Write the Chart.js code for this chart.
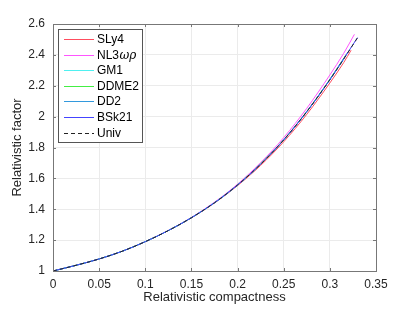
<!DOCTYPE html>
<html lang="en">
  <head>
    <meta charset="UTF-8" />
    <title>Relativistic factor vs compactness</title>
    <script src="https://cdn.jsdelivr.net/npm/chart.js@4.4.0/dist/chart.umd.min.js"></script>
    <style>
      html, body { margin: 0; padding: 0; background: #fff; }
      #wrap { width: 415px; height: 312px; }
    </style>
  </head>
  <body>
    <div id="wrap"><canvas id="myChart" width="415" height="312"></canvas></div>

    <script>
      // values
      const compactness = [0, 0.025, 0.05, 0.075, 0.1, 0.125, 0.15, 0.175, 0.2, 0.225, 0.25, 0.275, 0.3, 0.315, 0.33];

      const sly4C = [0, 0.025, 0.05, 0.075, 0.1, 0.125, 0.15, 0.175, 0.2, 0.225, 0.25, 0.275, 0.3, 0.315, 0.323];
      const sly4 = [1, 1.037, 1.078, 1.128, 1.19, 1.262, 1.344, 1.44, 1.553, 1.684, 1.837, 2.015, 2.218, 2.35, 2.43];

      const nl3C = [0, 0.025, 0.05, 0.075, 0.1, 0.125, 0.15, 0.175, 0.2, 0.225, 0.25, 0.275, 0.3, 0.315, 0.3266];
      const nl3 = [1, 1.037, 1.078, 1.128, 1.19, 1.263, 1.347, 1.446, 1.563, 1.702, 1.864, 2.054, 2.27, 2.41, 2.533];

      const gm1C = [0, 0.025, 0.05, 0.075, 0.1, 0.125, 0.15, 0.175, 0.2, 0.225, 0.25, 0.275, 0.3, 0.315];
      const gm1 = [1, 1.037, 1.078, 1.128, 1.19, 1.262, 1.345, 1.442, 1.557, 1.692, 1.849, 2.032, 2.239, 2.37];

      const ddme2C = [0, 0.025, 0.05, 0.075, 0.1, 0.125, 0.15, 0.175, 0.2, 0.225, 0.25, 0.275, 0.3, 0.318];
      const ddme2 = [1, 1.037, 1.078, 1.128, 1.19, 1.262, 1.345, 1.442, 1.558, 1.694, 1.851, 2.034, 2.242, 2.405];

      const dd2C = [0, 0.025, 0.05, 0.075, 0.1, 0.125, 0.15, 0.175, 0.2, 0.225, 0.25, 0.275, 0.3, 0.32];
      const dd2 = [1, 1.037, 1.078, 1.128, 1.19, 1.262, 1.345, 1.442, 1.557, 1.692, 1.849, 2.032, 2.239, 2.42];

      const bsk21C = [0, 0.025, 0.05, 0.075, 0.1, 0.125, 0.15, 0.175, 0.2, 0.225, 0.25, 0.275, 0.3, 0.315, 0.33];
      const bsk21 = [1, 1.037, 1.078, 1.128, 1.19, 1.262, 1.345, 1.442, 1.557, 1.692, 1.849, 2.032, 2.239, 2.375, 2.512];

      const univ = [1, 1.037, 1.078, 1.128, 1.19, 1.262, 1.345, 1.442, 1.557, 1.692, 1.849, 2.032, 2.239, 2.373, 2.511];

      const xTicks = [0, 0.05, 0.1, 0.15, 0.2, 0.25, 0.3, 0.35];
      const yTicks = [1, 1.2, 1.4, 1.6, 1.8, 2, 2.2, 2.4, 2.6];

      const FONT = "'Liberation Sans', Arial, sans-serif";

      function pts(xs, ys) {
        return xs.map((x, i) => ({ x: x, y: ys[i] }));
      }

      function series(label, xs, ys, color, dash, order) {
        return {
          label: label,
          data: pts(xs, ys),
          borderColor: color,
          borderWidth: 1,
          borderDash: dash,
          pointRadius: 0,
          fill: false,
          cubicInterpolationMode: "monotone",
          order: order,
        };
      }

      // box, inward ticks and legend like the matlab figure
      const boxPlugin = {
        id: "box",
        afterDatasetsDraw(chart) {
          const { ctx, chartArea: a, scales } = chart;
          ctx.save();
          ctx.strokeStyle = "#777";
          ctx.lineWidth = 1;
          ctx.beginPath();
          ctx.moveTo(a.left, a.top + 0.5);
          ctx.lineTo(a.right + 0.5, a.top + 0.5);
          ctx.lineTo(a.right + 0.5, a.bottom);
          ctx.stroke();
          ctx.beginPath();
          xTicks.forEach((v) => {
            const px = Math.round(scales.x.getPixelForValue(v)) + 0.5;
            ctx.moveTo(px, a.bottom);
            ctx.lineTo(px, a.bottom - 3);
            ctx.moveTo(px, a.top);
            ctx.lineTo(px, a.top + 3);
          });
          yTicks.forEach((v) => {
            const py = Math.round(scales.y.getPixelForValue(v)) + 0.5;
            ctx.moveTo(a.left, py);
            ctx.lineTo(a.left + 3, py);
            ctx.moveTo(a.right, py);
            ctx.lineTo(a.right - 3, py);
          });
          ctx.stroke();

          // legend
          const lx = 58.5, ly = 29.5, lw = 84, lh = 113;
          ctx.fillStyle = "#fff";
          ctx.fillRect(lx, ly, lw, lh);
          ctx.strokeStyle = "#555";
          ctx.strokeRect(lx, ly, lw, lh);
          ctx.font = "12px " + FONT;
          ctx.textBaseline = "middle";
          chart.data.datasets.forEach((ds, i) => {
            const y = Math.round(39 + i * 15.6) + 0.5;
            ctx.strokeStyle = ds.borderColor;
            ctx.setLineDash(ds.borderDash.length ? ds.borderDash : []);
            ctx.beginPath();
            ctx.moveTo(64, y);
            ctx.lineTo(94, y);
            ctx.stroke();
            ctx.setLineDash([]);
            ctx.fillStyle = "#000";
            if (ds.label === "NL3ωρ") {
              ctx.fillText("NL3", 97, y);
              const w = ctx.measureText("NL3").width;
              ctx.font = "italic 12px 'DejaVu Serif', serif";
              ctx.fillText("ωρ", 97 + w + 0.5, y);
              ctx.font = "12px " + FONT;
            } else {
              ctx.fillText(ds.label, 97, y);
            }
          });
          ctx.restore();
        },
      };

      const ctx = document.getElementById("myChart").getContext("2d");
      const myChart = new Chart(ctx, {
        type: "line",
        data: {
          datasets: [
            series("SLy4", sly4C, sly4, "#ff4d5e", [], 6),
            series("NL3ωρ", nl3C, nl3, "#ff55ff", [], 5),
            series("GM1", gm1C, gm1, "#4ff0f0", [], 4),
            series("DDME2", ddme2C, ddme2, "#44ee44", [], 3),
            series("DD2", dd2C, dd2, "#3399dd", [], 2),
            series("BSk21", bsk21C, bsk21, "#4444ff", [], 1),
            series("Univ", compactness, univ, "#222", [4, 3], 0),
          ],
        },
        plugins: [boxPlugin],
        options: {
          responsive: false,
          animation: false,
          layout: { padding: { left: 0, top: 24, right: 39, bottom: 0 } },
          plugins: { legend: { display: false }, tooltip: { enabled: false } },
          scales: {
            x: {
              type: "linear",
              min: 0,
              max: 0.35,
              afterBuildTicks: (s) => { s.ticks = xTicks.map((v) => ({ value: v })); },
              afterFit: (s) => { s.height = 41; },
              grid: { color: "#ebebeb", drawTicks: false },
              border: { color: "#777" },
              ticks: {
                color: "#262626",
                padding: 6,
                maxRotation: 0,
                font: { family: FONT, size: 12 },
                callback: (v) => String(parseFloat(v.toFixed(2))),
              },
              title: {
                display: true,
                text: "Relativistic compactness",
                color: "#262626",
                padding: { top: 0, bottom: 7 },
                font: { family: FONT, size: 13 },
              },
            },
            y: {
              type: "linear",
              min: 1,
              max: 2.6,
              afterBuildTicks: (s) => { s.ticks = yTicks.map((v) => ({ value: v })); },
              afterFit: (s) => { s.width = 53; },
              grid: { color: "#ebebeb", drawTicks: false },
              border: { color: "#777" },
              ticks: {
                color: "#262626",
                padding: 8,
                font: { family: FONT, size: 12 },
                callback: (v) => String(parseFloat(v.toFixed(1))),
              },
              title: {
                display: true,
                text: "Relativistic factor",
                color: "#262626",
                padding: { top: 10, bottom: 0 },
                font: { family: FONT, size: 13 },
              },
            },
          },
        },
      });
    </script>
  </body>
</html>
